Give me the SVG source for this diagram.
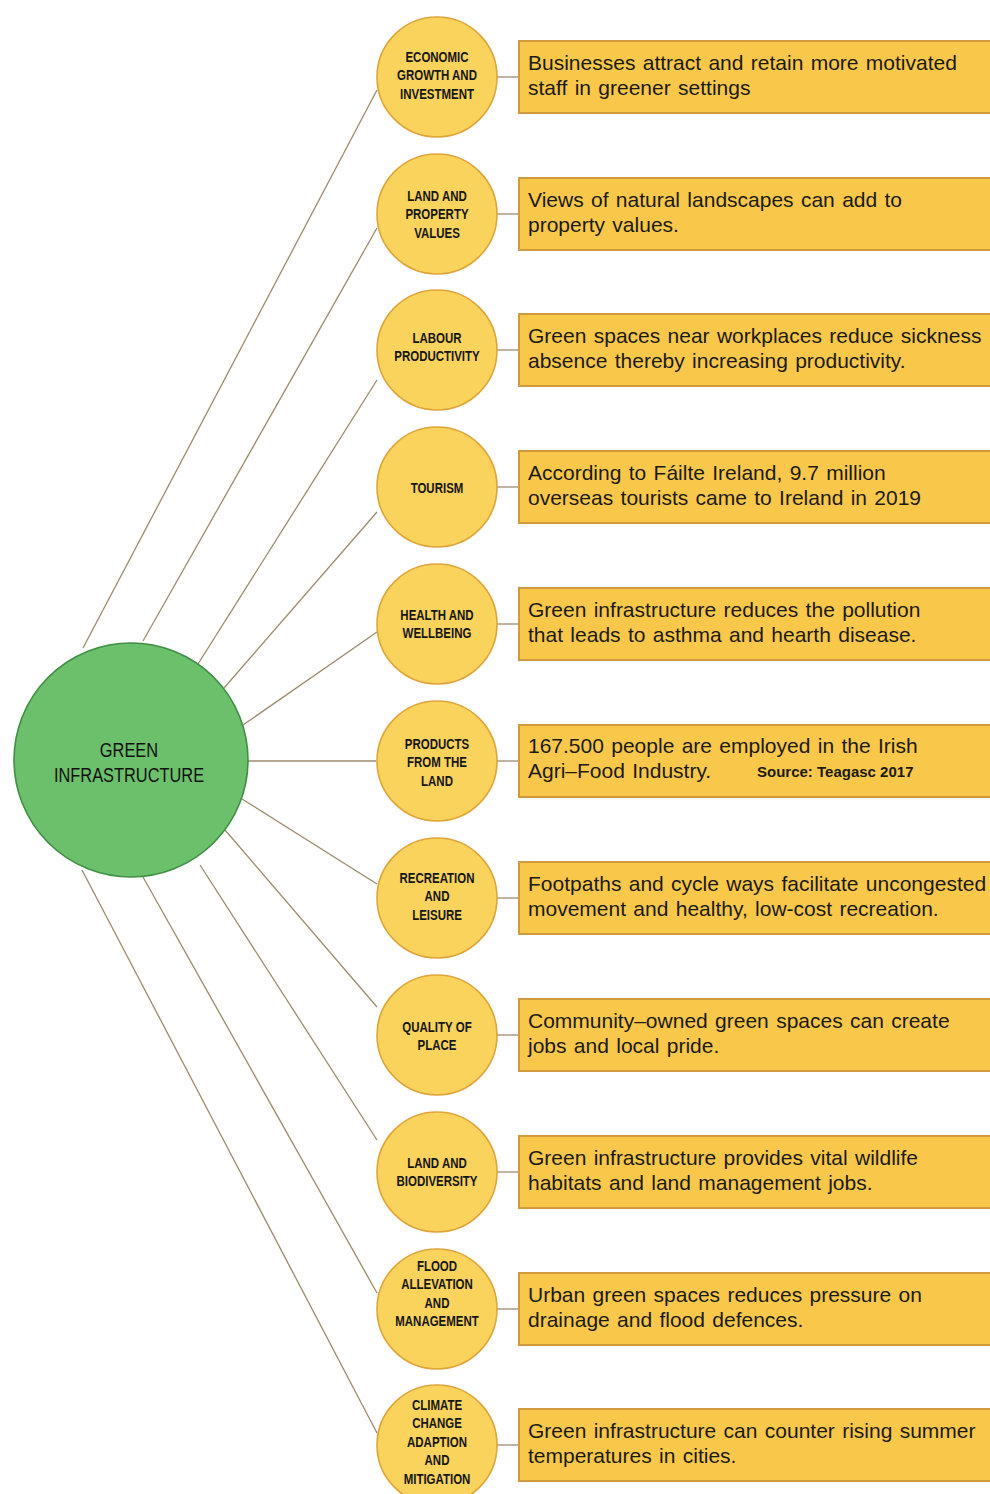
<svg xmlns="http://www.w3.org/2000/svg" width="990" height="1494" viewBox="0 0 990 1494">
<style>
.bg{fill:#ffffff}
.conn{stroke:#9c8a6e;stroke-width:1.3;fill:none}
.hub{fill:#6cbf6b;stroke:#3f8f45;stroke-width:1.6}
.yc{fill:#f9d35c;stroke:#e0a43a;stroke-width:1.6}
.box{fill:#f9c84a;stroke:#d39a3c;stroke-width:2}
.cl{font-family:"Liberation Sans",Arial,sans-serif;font-weight:bold;font-size:14px;fill:#161616;text-anchor:middle}
.hl{font-family:"Liberation Sans",Arial,sans-serif;font-size:20px;fill:#111111;text-anchor:middle}
.bt{font-family:"Liberation Sans",Arial,sans-serif;font-size:21px;fill:#1c1a14;word-spacing:1.5px}
.src{font-family:"Liberation Sans",Arial,sans-serif;font-weight:bold;font-size:15px;fill:#1c1a14}
</style>
<rect class="bg" x="0" y="0" width="990" height="1494"/>

<g id="connectors">
<line class="conn" x1="83" y1="648" x2="377" y2="90"/>
<line class="conn" x1="143" y1="641" x2="377" y2="228"/>
<line class="conn" x1="198" y1="664" x2="377" y2="380"/>
<line class="conn" x1="224" y1="688" x2="377" y2="512"/>
<line class="conn" x1="243" y1="725" x2="377" y2="632"/>
<line class="conn" x1="248" y1="761" x2="376" y2="761"/>
<line class="conn" x1="242" y1="799" x2="377" y2="884"/>
<line class="conn" x1="225" y1="830" x2="377" y2="1007"/>
<line class="conn" x1="200" y1="865" x2="377" y2="1140"/>
<line class="conn" x1="143" y1="877" x2="377" y2="1293"/>
<line class="conn" x1="82" y1="870" x2="377" y2="1433"/>
<line class="conn" x1="497" y1="77" x2="520" y2="77"/>
<line class="conn" x1="497" y1="214" x2="520" y2="214"/>
<line class="conn" x1="497" y1="350" x2="520" y2="350"/>
<line class="conn" x1="497" y1="487" x2="520" y2="487"/>
<line class="conn" x1="497" y1="624" x2="520" y2="624"/>
<line class="conn" x1="497" y1="761" x2="520" y2="761"/>
<line class="conn" x1="497" y1="898" x2="520" y2="898"/>
<line class="conn" x1="497" y1="1035" x2="520" y2="1035"/>
<line class="conn" x1="497" y1="1172" x2="520" y2="1172"/>
<line class="conn" x1="497" y1="1309" x2="520" y2="1309"/>
<line class="conn" x1="497" y1="1445" x2="520" y2="1445"/>
</g>

<g id="hub">
<circle class="hub" cx="131" cy="760" r="117"/>
<text class="hl" transform="translate(129,757) scale(0.82,1)"><tspan x="0" y="0">GREEN</tspan><tspan x="0" y="25">INFRASTRUCTURE</tspan></text>
</g>

<g id="n1">
<circle class="yc" cx="437" cy="77" r="60"/>
<text class="cl" transform="translate(437,62) scale(0.82,1)"><tspan x="0" y="0">ECONOMIC</tspan><tspan x="0" y="18.5">GROWTH AND</tspan><tspan x="0" y="37">INVESTMENT</tspan></text>
<rect class="box" x="519" y="41" width="480" height="72"/>
<text class="bt"><tspan x="528" y="70">Businesses attract and retain more motivated</tspan><tspan x="528" y="95">staff in greener settings</tspan></text>
</g>

<g id="n2">
<circle class="yc" cx="437" cy="214" r="60"/>
<text class="cl" transform="translate(437,201) scale(0.82,1)"><tspan x="0" y="0">LAND AND</tspan><tspan x="0" y="18.5">PROPERTY</tspan><tspan x="0" y="37">VALUES</tspan></text>
<rect class="box" x="519" y="178" width="480" height="72"/>
<text class="bt"><tspan x="528" y="207">Views of natural landscapes can add to</tspan><tspan x="528" y="232">property values.</tspan></text>
</g>

<g id="n3">
<circle class="yc" cx="437" cy="350" r="60"/>
<text class="cl" transform="translate(437,343) scale(0.82,1)"><tspan x="0" y="0">LABOUR</tspan><tspan x="0" y="18.5">PRODUCTIVITY</tspan></text>
<rect class="box" x="519" y="314" width="480" height="72"/>
<text class="bt"><tspan x="528" y="343">Green spaces near workplaces reduce sickness</tspan><tspan x="528" y="368">absence thereby increasing productivity.</tspan></text>
</g>

<g id="n4">
<circle class="yc" cx="437" cy="487" r="60"/>
<text class="cl" transform="translate(437,493) scale(0.82,1)"><tspan x="0" y="0">TOURISM</tspan></text>
<rect class="box" x="519" y="451" width="480" height="72"/>
<text class="bt"><tspan x="528" y="480">According to Fáilte Ireland, 9.7 million</tspan><tspan x="528" y="505">overseas tourists came to Ireland in 2019</tspan></text>
</g>

<g id="n5">
<circle class="yc" cx="437" cy="624" r="60"/>
<text class="cl" transform="translate(437,620) scale(0.82,1)"><tspan x="0" y="0">HEALTH AND</tspan><tspan x="0" y="18.5">WELLBEING</tspan></text>
<rect class="box" x="519" y="588" width="480" height="72"/>
<text class="bt"><tspan x="528" y="617">Green infrastructure reduces the pollution</tspan><tspan x="528" y="642">that leads to asthma and hearth disease.</tspan></text>
</g>

<g id="n6">
<circle class="yc" cx="437" cy="761" r="60"/>
<text class="cl" transform="translate(437,749) scale(0.82,1)"><tspan x="0" y="0">PRODUCTS</tspan><tspan x="0" y="18.5">FROM THE</tspan><tspan x="0" y="37">LAND</tspan></text>
<rect class="box" x="519" y="725" width="480" height="72"/>
<text class="bt"><tspan x="528" y="753">167.500 people are employed in the Irish</tspan><tspan x="528" y="778">Agri–Food Industry.</tspan></text>
<text class="src" x="757" y="777">Source: Teagasc 2017</text>
</g>

<g id="n7">
<circle class="yc" cx="437" cy="898" r="60"/>
<text class="cl" transform="translate(437,883) scale(0.82,1)"><tspan x="0" y="0">RECREATION</tspan><tspan x="0" y="18.5">AND</tspan><tspan x="0" y="37">LEISURE</tspan></text>
<rect class="box" x="519" y="862" width="480" height="72"/>
<text class="bt"><tspan x="528" y="891">Footpaths and cycle ways facilitate uncongested</tspan><tspan x="528" y="916">movement and healthy, low-cost recreation.</tspan></text>
</g>

<g id="n8">
<circle class="yc" cx="437" cy="1035" r="60"/>
<text class="cl" transform="translate(437,1032) scale(0.82,1)"><tspan x="0" y="0">QUALITY OF</tspan><tspan x="0" y="18.5">PLACE</tspan></text>
<rect class="box" x="519" y="999" width="480" height="72"/>
<text class="bt"><tspan x="528" y="1028">Community–owned green spaces can create</tspan><tspan x="528" y="1053">jobs and local pride.</tspan></text>
</g>

<g id="n9">
<circle class="yc" cx="437" cy="1172" r="60"/>
<text class="cl" transform="translate(437,1168) scale(0.82,1)"><tspan x="0" y="0">LAND AND</tspan><tspan x="0" y="18.5">BIODIVERSITY</tspan></text>
<rect class="box" x="519" y="1136" width="480" height="72"/>
<text class="bt"><tspan x="528" y="1165">Green infrastructure provides vital wildlife</tspan><tspan x="528" y="1190">habitats and land management jobs.</tspan></text>
</g>

<g id="n10">
<circle class="yc" cx="437" cy="1309" r="60"/>
<text class="cl" transform="translate(437,1271) scale(0.82,1)"><tspan x="0" y="0">FLOOD</tspan><tspan x="0" y="18.5">ALLEVATION</tspan><tspan x="0" y="37">AND</tspan><tspan x="0" y="55.5">MANAGEMENT</tspan></text>
<rect class="box" x="519" y="1273" width="480" height="72"/>
<text class="bt"><tspan x="528" y="1302">Urban green spaces reduces pressure on</tspan><tspan x="528" y="1327">drainage and flood defences.</tspan></text>
</g>

<g id="n11">
<circle class="yc" cx="437" cy="1445" r="60"/>
<text class="cl" transform="translate(437,1410) scale(0.82,1)"><tspan x="0" y="0">CLIMATE</tspan><tspan x="0" y="18.5">CHANGE</tspan><tspan x="0" y="37">ADAPTION</tspan><tspan x="0" y="55.5">AND</tspan><tspan x="0" y="74">MITIGATION</tspan></text>
<rect class="box" x="519" y="1409" width="480" height="72"/>
<text class="bt"><tspan x="528" y="1438">Green infrastructure can counter rising summer</tspan><tspan x="528" y="1463">temperatures in cities.</tspan></text>
</g>
</svg>
